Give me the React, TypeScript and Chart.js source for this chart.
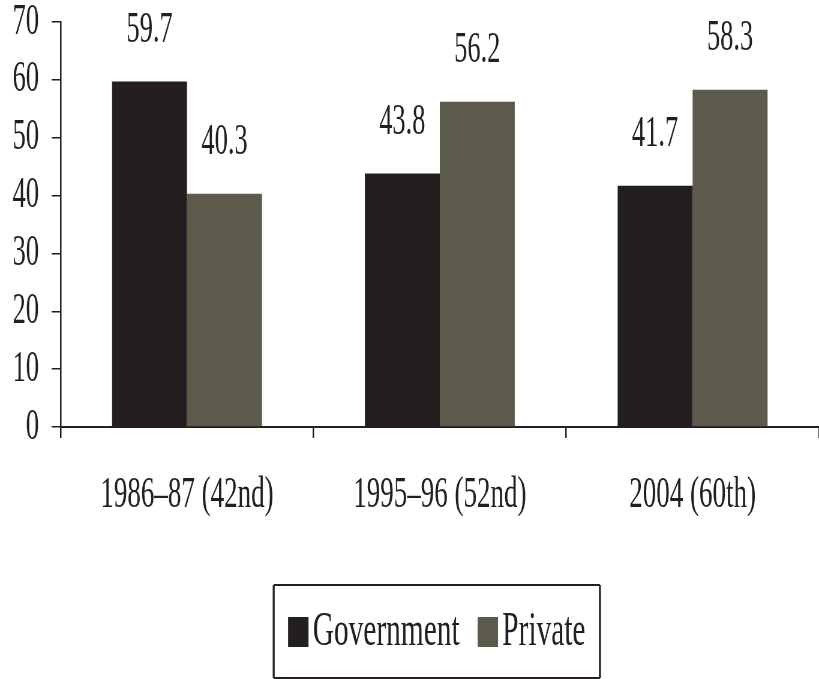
import React, { useEffect, useRef } from "react";
import { Chart, registerables } from "chart.js";

Chart.register(...registerables);

// Survey rounds and the share of each provider (%)
const categories = ["1986–87 (42nd)", "1995–96 (52nd)", "2004 (60th)"];
const government = [59.7, 43.8, 41.7];
const privateSector = [40.3, 56.2, 58.3];
const seriesNames = ["Government", "Private"];
const seriesColors = ["#231f20", "#5c5a4b"];
const yMin = 0;
const yMax = 70;
const yStep = 10;

// The chart is laid out on a wider canvas and squeezed horizontally,
// which gives the tall, condensed look of the lettering.
const SQUEEZE = 0.6;
const WIDTH = 819;
const HEIGHT = 679;
const CANVAS_W = Math.round(WIDTH / SQUEEZE);
const INK = "#231f20";
const FONT = "'Liberation Serif', 'Times New Roman', serif";

const valueLabels = {
  id: "valueLabels",
  afterDatasetsDraw(chart: any) {
    const ctx = chart.ctx;
    ctx.save();
    ctx.font = `44px ${FONT}`;
    ctx.fillStyle = INK;
    ctx.textAlign = "center";
    ctx.textBaseline = "middle";
    chart.data.datasets.forEach((ds: any, i: number) => {
      const meta = chart.getDatasetMeta(i);
      meta.data.forEach((bar: any, j: number) => {
        ctx.fillText(Number(ds.data[j]).toFixed(1), bar.x, bar.y - 51);
      });
    });
    ctx.restore();
  },
};

// Legend drawn inside a framed box under the axis labels
const boxedLegend = {
  id: "boxedLegend",
  afterDraw(chart: any) {
    const ctx = chart.ctx;
    const { left, right } = chart.chartArea;
    ctx.save();
    ctx.font = `49px ${FONT}`;
    const swatchW = 34;
    const swatchH = 30;
    const swatchGap = 7;
    const itemGap = 30;
    const padX = 24;
    const items = chart.data.datasets.map((ds: any) => ({
      text: ds.label,
      color: ds.backgroundColor,
      w: ctx.measureText(ds.label).width,
    }));
    const contentW = items.reduce(
      (s: number, it: any, i: number) => s + swatchW + swatchGap + it.w + (i ? itemGap : 0),
      0
    );
    const boxW = contentW + padX * 2;
    const boxH = 93;
    const boxTop = chart.height - 94;
    const cx = (left + right) / 2 - 5;
    const boxLeft = cx - boxW / 2;

    ctx.strokeStyle = INK;
    ctx.lineWidth = 2;
    ctx.beginPath();
    ctx.moveTo(boxLeft, boxTop);
    ctx.lineTo(boxLeft + boxW, boxTop);
    ctx.moveTo(boxLeft, boxTop + boxH);
    ctx.lineTo(boxLeft + boxW, boxTop + boxH);
    ctx.stroke();
    ctx.lineWidth = 3.3;
    ctx.beginPath();
    ctx.moveTo(boxLeft, boxTop);
    ctx.lineTo(boxLeft, boxTop + boxH);
    ctx.moveTo(boxLeft + boxW, boxTop);
    ctx.lineTo(boxLeft + boxW, boxTop + boxH);
    ctx.stroke();

    const cy = boxTop + 47;
    let x = boxLeft + padX;
    ctx.textBaseline = "middle";
    ctx.textAlign = "left";
    items.forEach((it: any, i: number) => {
      if (i) x += itemGap;
      ctx.fillStyle = it.color;
      ctx.fillRect(x, cy - swatchH / 2, swatchW, swatchH);
      x += swatchW + swatchGap;
      ctx.fillStyle = INK;
      ctx.fillText(it.text, x, cy);
      x += it.w;
    });
    ctx.restore();
  },
};

export default function App() {
  const canvasRef = useRef<HTMLCanvasElement | null>(null);

  useEffect(() => {
    document.body.style.margin = "0";
    const canvas = canvasRef.current;
    if (!canvas) return;
    const chart = new Chart(canvas, {
      type: "bar",
      data: {
        labels: categories,
        datasets: [
          {
            label: seriesNames[0],
            data: government,
            backgroundColor: seriesColors[0],
            barPercentage: 1,
            categoryPercentage: 0.593,
          },
          {
            label: seriesNames[1],
            data: privateSector,
            backgroundColor: seriesColors[1],
            barPercentage: 1,
            categoryPercentage: 0.593,
          },
        ],
      },
      options: {
        responsive: false,
        animation: false,
        devicePixelRatio: 1,
        layout: { padding: { top: 22, left: 0, right: 0, bottom: 127 } },
        plugins: {
          legend: { display: false },
          tooltip: { enabled: false },
        },
        scales: {
          x: {
            grid: {
              display: true,
              drawOnChartArea: false,
              offset: true,
              tickLength: 11,
              color: INK,
              lineWidth: 2.5,
            },
            border: { display: true, color: INK, width: 2 },
            ticks: {
              color: INK,
              font: { family: FONT, size: 45 },
              padding: 30,
              maxRotation: 0,
            },
          },
          y: {
            min: yMin,
            max: yMax,
            grid: {
              drawOnChartArea: false,
              tickLength: 15,
              color: INK,
              lineWidth: 1.5,
            },
            border: { display: true, color: INK, width: 2.5 },
            ticks: {
              stepSize: yStep,
              color: INK,
              // a tight line height keeps the top label from pushing the plot down
              font: { family: FONT, size: 44, lineHeight: 0.04 },
              padding: 21,
            },
          },
        },
      },
      plugins: [valueLabels, boxedLegend],
    });
    return () => chart.destroy();
  }, []);

  return (
    <div style={{ width: WIDTH, height: HEIGHT, overflow: "hidden", background: "#fff" }}>
      <div
        style={{
          width: CANVAS_W,
          height: HEIGHT,
          transform: `scaleX(${SQUEEZE})`,
          transformOrigin: "0 0",
        }}
      >
        <canvas ref={canvasRef} width={CANVAS_W} height={HEIGHT} />
      </div>
    </div>
  );
}
